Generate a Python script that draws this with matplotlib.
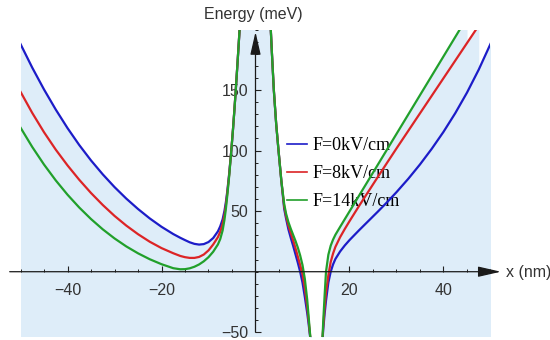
import numpy as np
import matplotlib
matplotlib.use("Agg")
import matplotlib.pyplot as plt
from matplotlib.lines import Line2D
from matplotlib.ticker import FixedLocator, MultipleLocator

plt.rcParams['font.family'] = ['Liberation Sans', 'DejaVu Sans']

# ---------------- data ----------------
labels = ["F=0kV/cm", "F=8kV/cm", "F=14kV/cm"]
colors = ["#1c1cc8", "#dc2426", "#21a02b"]

# left branch (x < 0)
x_left = [-50, -47.5, -45, -42.5, -40, -37.5, -35, -32.5, -30, -27.5, -25, -22.5,
          -20, -17.5, -16, -15, -14, -13, -12, -11, -10, -9, -8, -7.5, -7, -6.6,
          -6.3, -6.0, -5.6, -5.15, -4.8, -4.5, -4.2, -3.8, -3.4, -3.3]
blue_left = [188, 168.5, 150.5, 133.9, 118.6, 104.6, 91.9, 80.4, 69.9, 60.4, 51.8,
             44.0, 37.1, 31.1, 28.0, 26.1, 24.3, 23.0, 22.4, 22.8, 24.5, 27.8, 33.3,
             37.5, 43.2, 50.3, 57.5, 66.5, 81, 100, 117, 133, 150, 174, 199, 206]
red_left = [148.6, 131.1, 115.2, 100.8, 87.8, 75.9, 65.0, 55.1, 46.1, 38.1, 31.0,
            24.75, 19.5, 15.25, 13.0, 12.0, 11.4, 11.4, 12.2, 14.2, 17.6, 22.5, 28.5,
            33.0, 39.5, 47.0, 55.0, 65.0, 80, 100, 117, 133, 150, 174, 199, 206]
green_left = [119, 103, 88.5, 75.4, 63.6, 53.0, 43.5, 35.0, 27.5, 20.9, 15.2, 10.3,
              6.2, 2.9, 2.0, 2.1, 2.8, 4.1, 6.0, 8.6, 12.0, 16.5, 22.5, 27.0, 34.0,
              43.0, 52.0, 63.0, 79, 100, 117, 133, 150, 174, 199, 206]

# middle branch (between the barrier and the well)
x_mid = [3.2, 3.25, 3.5, 3.9, 4.4, 4.9, 5.5, 6.1, 6.5, 7.0, 7.5, 8.0, 8.5, 9.0, 9.5,
         10.0, 10.5, 11.0, 11.3, 11.6, 11.8]
blue_mid = [206, 200, 180, 150, 122, 100, 75, 52, 44, 35, 28, 21.5, 14.5, 7.5, 0,
            -9, -21, -34, -43, -53, -60]
red_mid = [206, 200, 180, 150, 122, 100, 75, 54, 46, 38, 32, 26, 19.5, 12.5, 5.5,
           -2, -14, -29, -40, -52, -60]
green_mid = [206, 200, 180, 150, 122, 100, 75, 56, 48, 41, 35.5, 30.5, 25.5, 20, 13.5,
             5.5, -6, -23, -37, -51, -60]

# right branch
x_right = [14.2, 14.4, 14.7, 15.0, 15.5, 16.0, 16.5, 17.0, 18.0, 19.0, 20.0, 22.0,
           24.0, 26.0, 28.0, 30.0, 32.5, 35.0, 37.5, 40.0, 42.5, 45.0, 47.5, 50.0]
blue_right = [-60, -48, -35, -24, -9, 0, 6, 10.5, 16.7, 21.7, 26.1, 34.1, 41.8, 49.5,
              57.4, 65.7, 76.7, 88.6, 101.5, 115.5, 130.9, 147.9, 166.9, 188.1]
red_right = [-60, -46, -30, -17, -3, 8, 15, 20.5, 28.5, 35.3, 41.7, 54.1, 66.1, 78.1,
             90.0, 101.8, 116.3, 130.8, 145.3, 159.8, 174.3, 188.8, 203.3, np.nan]
green_right = [-60, -42, -20, 0, 14, 21.5, 26.5, 30.5, 37, 43.4, 49.8, 62.6, 75.4,
               88.2, 101, 113.8, 129.8, 145.8, 161.8, 177.8, 193.8, 209.8, np.nan, np.nan]

x_ticks_major = [-40, -20, 20, 40]
y_ticks_major = [-50, 50, 100, 150]

series = [
    (blue_left, blue_mid, blue_right),
    (red_left, red_mid, red_right),
    (green_left, green_mid, green_right),
]

# ---------------- figure ----------------
W, H = 550, 340
fig = plt.figure(figsize=(W / 100, H / 100), dpi=100)
ax = fig.add_axes([20.5 / W, 3.5 / H, 470 / W, 307 / H])
ymin, ymax = -53.5, 200
ax.set_xlim(-50, 50)
ax.set_ylim(ymin, ymax)
ax.set_facecolor("none")

fill_c = "#deedf9"
segs_x = [x_left, x_mid, x_right]
for ser in series:
    for xs, ys in zip(segs_x, ser):
        xs = np.asarray(xs, float)
        ys = np.asarray(ys, float)
        ok = ~np.isnan(ys)
        ax.fill_between(xs[ok], ymin, ys[ok], color=fill_c, lw=0, zorder=1)
# the barrier top between the left and middle branches is above the plot range
ax.axvspan(x_left[-1], x_mid[0], color=fill_c, lw=0, zorder=1)

for ser, c in zip(series, colors):
    for xs, ys in zip(segs_x, ser):
        ax.plot(xs, ys, color=c, lw=1.6, zorder=3, solid_joinstyle="round")

# axes through the origin
for s in ["top", "right"]:
    ax.spines[s].set_visible(False)
ax.spines["left"].set_position(("data", 0))
ax.spines["bottom"].set_position(("data", 0))
ax.spines["left"].set_visible(False)
ax.spines["bottom"].set_visible(False)

ax.xaxis.set_major_locator(FixedLocator(x_ticks_major))
ax.xaxis.set_minor_locator(MultipleLocator(5))
ax.yaxis.set_major_locator(FixedLocator(y_ticks_major))
ax.yaxis.set_minor_locator(MultipleLocator(10))
ax.tick_params(which="major", direction="in", length=4, width=0.8, color="#222222",
               labelsize=11.5, labelcolor="#333333")
ax.tick_params(which="minor", direction="in", length=2.2, width=0.7, color="#222222")
ax.tick_params(axis="x", which="major", pad=8)
ax.tick_params(axis="y", which="major", pad=5)

arrow = dict(arrowstyle="-|>,head_length=1.4,head_width=0.32", color="#1a1a1a",
             lw=0.9, shrinkA=0, shrinkB=0, mutation_scale=10)
ax.annotate("", xy=(52.2, 0), xytext=(-52.3, 0), arrowprops=arrow,
            annotation_clip=False, zorder=4)
ax.annotate("", xy=(0, 198), xytext=(0, -50), arrowprops=arrow,
            annotation_clip=False, zorder=4)

fig.text(253.5 / W, 1 - 14.7 / H, "Energy (meV)", ha="center", va="center",
         fontsize=11.5, color="#333333")
fig.text(506 / W, 1 - 272 / H, "x (nm)", ha="left", va="center",
         fontsize=11.5, color="#333333")

handles = [Line2D([], [], color=c, lw=1.2) for c in colors]
leg = ax.legend(handles, labels, loc="upper left",
                bbox_to_anchor=(287 / W, 1 - 137.5 / H), bbox_transform=fig.transFigure,
                frameon=False, borderpad=0, borderaxespad=0,
                handlelength=1.1, handletextpad=0.33, labelspacing=0.6,
                prop={"family": "Liberation Serif", "size": 13})
leg.set_zorder(2)

fig.savefig("out.png", dpi=100)
